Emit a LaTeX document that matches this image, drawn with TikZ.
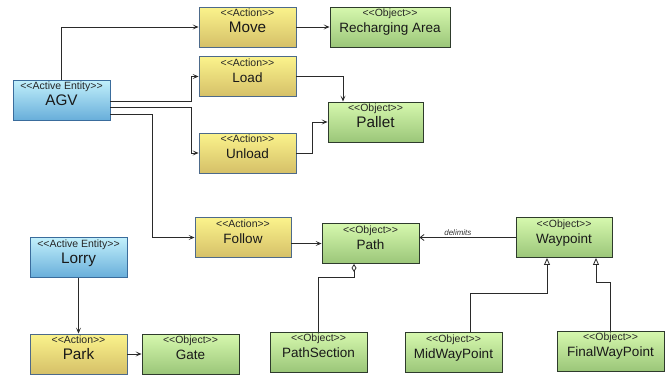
\documentclass[tikz,border=0pt]{standalone}
\usepackage{fontspec}
\newfontfamily\umlfont{Liberation Sans}
\usetikzlibrary{arrows.meta,calc}
\definecolor{acttop}{HTML}{FBF38C}
\definecolor{actbot}{HTML}{D5C068}
\definecolor{actline}{HTML}{4D6A8A}
\definecolor{objtop}{HTML}{D6F8AE}
\definecolor{objbot}{HTML}{9BC679}
\definecolor{objline}{HTML}{2E3B2C}
\definecolor{enttop}{HTML}{C2F0FB}
\definecolor{entbot}{HTML}{68AEDA}
\definecolor{entline}{HTML}{3A6C9C}
\definecolor{wire}{HTML}{2A2A2A}
\tikzset{
  umlbase/.style={rectangle, inner sep=0pt, minimum height=40pt, line width=0.9pt, shading=axis, shading angle=0},
  actionbox/.style={umlbase, draw=actline, top color=acttop, bottom color=actbot},
  objectbox/.style={umlbase, draw=objline, top color=objtop, bottom color=objbot},
  entitybox/.style={umlbase, draw=entline, top color=enttop, bottom color=entbot},
  stereo/.style={anchor=base, inner sep=0pt, font=\umlfont\fontsize{10.5}{12}\selectfont, text=black!85},
  title/.style={anchor=base, inner sep=0pt, text=black!90},
  wirestyle/.style={draw=wire, line width=0.8pt},
  arr/.style={wirestyle, -{Stealth[length=6pt,width=5pt,inset=3pt]}},
  barb/.style={wirestyle, -{Straight Barb[length=4pt,width=6pt]}},
  gen/.style={wirestyle, -{Triangle[open,length=7pt,width=6pt,fill=white]}},
  agg/.style={wirestyle, -{Diamond[open,length=8pt,width=5pt,fill=white]}},
}
% box: [title size], style, name, centre, width, stereotype, title
\newcommand\umlbox[7][13.5]{%
  \node[#2, minimum width=#5] (#3) at (#4) {};
  \node[stereo] (#3-s) at ([yshift=-10pt]#3.north) {#6};
  \node[title, font=\umlfont\fontsize{#1}{16}\selectfont] (#3-t) at ([yshift=-26pt]#3.north) {#7};
}
\begin{document}
\begin{tikzpicture}[x=1pt,y=-1pt]
\useasboundingbox (0,0) rectangle (670,375);

\umlbox[15.3]{entitybox}{agv}{61.5,100}{97pt}{<<Active Entity>>}{AGV}
\umlbox[15.3]{actionbox}{move}{247.5,27}{97pt}{<<Action>>}{Move}
\umlbox{actionbox}{load}{247.5,76.5}{97pt}{<<Action>>}{Load}
\umlbox{actionbox}{unload}{247.5,153}{97pt}{<<Action>>}{Unload}
\umlbox{objectbox}{recharge}{390,27}{120pt}{<<Object>>}{Recharging Area}
\umlbox[15.3]{objectbox}{pallet}{375.5,122}{95pt}{<<Object>>}{Pallet}
\umlbox{actionbox}{follow}{243,237.5}{96pt}{<<Action>>}{Follow}
\umlbox{objectbox}{path}{370.5,243.5}{97pt}{<<Object>>}{Path}
\umlbox{objectbox}{waypoint}{564,237.5}{96pt}{<<Object>>}{Waypoint}
\umlbox[15.3]{entitybox}{lorry}{78.5,257.5}{97pt}{<<Active Entity>>}{Lorry}
\umlbox[15.3]{actionbox}{park}{78.5,354}{97pt}{<<Action>>}{Park}
\umlbox{objectbox}{gate}{190.5,354}{97pt}{<<Object>>}{Gate}
\umlbox{objectbox}{pathsection}{318.5,352}{97pt}{<<Object>>}{PathSection}
\umlbox{objectbox}{midwp}{453.5,352.5}{97pt}{<<Object>>}{MidWayPoint}
\umlbox{objectbox}{finalwp}{610.5,351}{107pt}{<<Object>>}{FinalWayPoint}

% AGV actions
\draw[arr] (agv) |- (move);
\draw[arr] ([yshift=-1pt]agv.east) -- ++(81,0) |- (load.west);
\draw[arr] ([yshift=-7pt]agv.east) -- ++(81,0) |- (unload.west);
\draw[arr] ([yshift=-14pt]agv.east) -- ++(42,0) |- (follow.west);

% action targets
\draw[arr] (move) -- (recharge);
\draw[arr] (load.east) -| ([xshift=-32.5pt]pallet.north);
\draw[arr] (unload.east) -- ++(16,0) |- (pallet.west);
\draw[arr] (path.west -| follow.east) -- (path.west);
\draw[arr] (lorry) -- (park);
\draw[arr] (park) -- (gate);

% path structure
\draw[barb] (waypoint.west) -- node[above=1pt, pos=0.6, inner sep=1pt, font=\umlfont\itshape\fontsize{8}{9}\selectfont, text=black!80] (delim) {delimits} (waypoint.west -| path.east);
\draw[agg] (pathsection.north) -- ++(0,-54) -| ([xshift=-16.5pt]path.south);
\draw[gen] ([xshift=16.5pt]midwp.north) -- ++(0,-39) -| ([xshift=-17pt]waypoint.south);
\draw[gen] (finalwp.north) -- ++(0,-48) -| ([xshift=32pt]waypoint.south);
\end{tikzpicture}
\end{document}
